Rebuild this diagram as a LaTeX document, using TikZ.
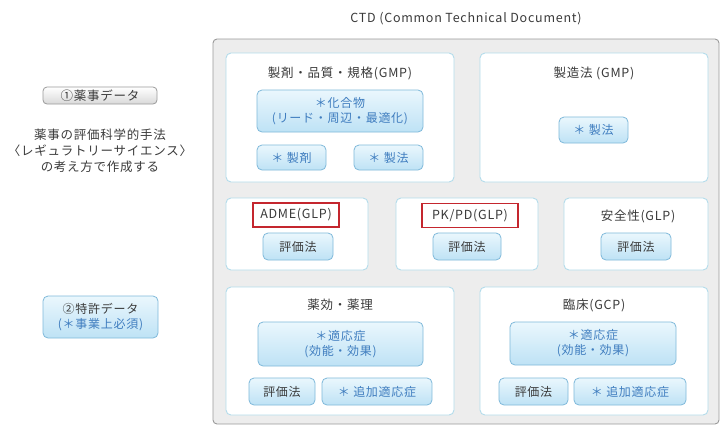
\documentclass[tikz,border=0pt]{standalone}
\usepackage{fontspec}
\setmainfont[LetterSpace=6]{Noto Sans CJK JP}
\usepackage{tikz}
\usetikzlibrary{positioning}

\definecolor{ctdgray}{HTML}{EDEDED}
\definecolor{ctdline}{HTML}{9A9A9A}
\definecolor{grpline}{HTML}{B3DCEB}
\definecolor{boxline}{HTML}{7FB9DA}
\definecolor{boxtop}{HTML}{EAF7FD}
\definecolor{boxbot}{HTML}{BEE2F5}
\definecolor{boxtext}{HTML}{3F7DBF}
\definecolor{labred}{HTML}{C4262E}
\definecolor{txt}{HTML}{3A3A3A}

\tikzset{
    grp/.style={draw=grpline, line width=0.9pt, fill=white, rounded corners=5pt, inner sep=0pt},
    bluebox/.style={draw=boxline, line width=0.8pt, top color=boxtop, bottom color=boxbot,
        rounded corners=5pt, align=center, text=boxtext, font=\fontsize{12}{15}\selectfont, inner sep=1pt},
    graybox/.style={draw=ctdline, line width=0.8pt, top color=white, bottom color=black!15,
        rounded corners=4pt, text=txt, font=\fontsize{12.5}{14}\selectfont, inner sep=0pt},
    redlbl/.style={draw=labred, line width=1.4pt, fill=white, text=txt,
        font=\fontsize{12.5}{14}\selectfont, inner sep=1pt},
    ttl/.style={text=txt, font=\fontsize{12.5}{14}\selectfont},
}

\begin{document}
\begin{tikzpicture}[x=1pt, y=-1pt]
        \useasboundingbox (0,0) rectangle (722,426);
        \node[ttl, font=\fontsize{12.5}{14}\selectfont] (ctd) at (466,19) {CTD (Common Technical Document)};
        \draw[draw=ctdline, line width=0.9pt, fill=ctdgray, rounded corners=4pt] (213,39) rectangle (719,424);

        % left side
        \node[graybox, minimum width=114pt, minimum height=17pt] (yakuji) at (100,95.5) {①薬事データ};
        \node[ttl, align=center, font=\fontsize{12.5}{16}\selectfont] (rs) at (100,151) {薬事の評価科学的手法\\〈レギュラトリーサイエンス〉\\の考え方で作成する};
        \node[bluebox, text=txt, minimum width=115pt, minimum height=42pt] (tokkyo) at (100.5,317) {②特許データ\\{\color{boxtext}(＊事業上必須)}};

        % row 1
        \node[grp, minimum width=228pt, minimum height=129pt] (hinshitsu) at (340,117.5) {};
        \node[ttl] (hinshitsut) at (340,73) {製剤・品質・規格(GMP)};
        \node[bluebox, minimum width=166pt, minimum height=42pt] (kagou) at (340,111) {＊化合物\\(リード・周辺・最適化)};
        \node[bluebox, minimum width=69pt, minimum height=25pt] (seizai) at (291.5,157.5) {＊ 製剤};
        \node[bluebox, minimum width=69pt, minimum height=25pt] (seiho) at (388.5,157.5) {＊ 製法};

        \node[grp, minimum width=228pt, minimum height=129pt] (seizou) at (594,117.5) {};
        \node[ttl] (seizout) at (594,73) {製造法 (GMP)};
        \node[bluebox, minimum width=69pt, minimum height=26pt] (seihob) at (593.5,130) {＊ 製法};

        % row 2
        \node[grp, minimum width=142pt, minimum height=72pt] (adme) at (297,234) {};
        \node[redlbl, minimum width=86pt, minimum height=24pt] (admet) at (296,215) {ADME(GLP)};
        \node[bluebox, text=txt, minimum width=70pt, minimum height=27pt] (admeeval) at (298,246.5) {評価法};

        \node[grp, minimum width=142pt, minimum height=72pt] (pkpd) at (467,234) {};
        \node[redlbl, minimum width=96pt, minimum height=24pt] (pkpdt) at (470,215.5) {PK/PD(GLP)};
        \node[bluebox, text=txt, minimum width=68pt, minimum height=27pt] (pkpdeval) at (467,246.5) {評価法};

        \node[grp, minimum width=144pt, minimum height=72pt] (anzen) at (636,234) {};
        \node[ttl] (anzent) at (638,216) {安全性(GLP)};
        \node[bluebox, text=txt, minimum width=70pt, minimum height=27pt] (anzeneval) at (636,246.5) {評価法};

        % row 3
        \node[grp, minimum width=228pt, minimum height=128pt] (yakkou) at (340,351) {};
        \node[ttl] (yakkout) at (340,305) {薬効・薬理};
        \node[bluebox, minimum width=165pt, minimum height=44pt] (tekiou) at (340.5,344) {＊適応症\\(効能・効果)};
        \node[bluebox, text=txt, minimum width=66pt, minimum height=27pt] (yakkoueval) at (282,391.5) {評価法};
        \node[bluebox, minimum width=110pt, minimum height=27pt] (tsuika) at (377,391.5) {＊ 追加適応症};

        \node[grp, minimum width=228pt, minimum height=128pt] (rinshou) at (594,351) {};
        \node[ttl] (rinshout) at (594,305) {臨床(GCP)};
        \node[bluebox, minimum width=166pt, minimum height=43pt] (tekioub) at (593,343.5) {＊適応症\\(効能・効果)};
        \node[bluebox, text=txt, minimum width=69pt, minimum height=27pt] (rinshoueval) at (533.5,391.5) {評価法};
        \node[bluebox, minimum width=112pt, minimum height=27pt] (tsuikab) at (630,391.5) {＊ 追加適応症};
    \end{tikzpicture}
\end{document}
